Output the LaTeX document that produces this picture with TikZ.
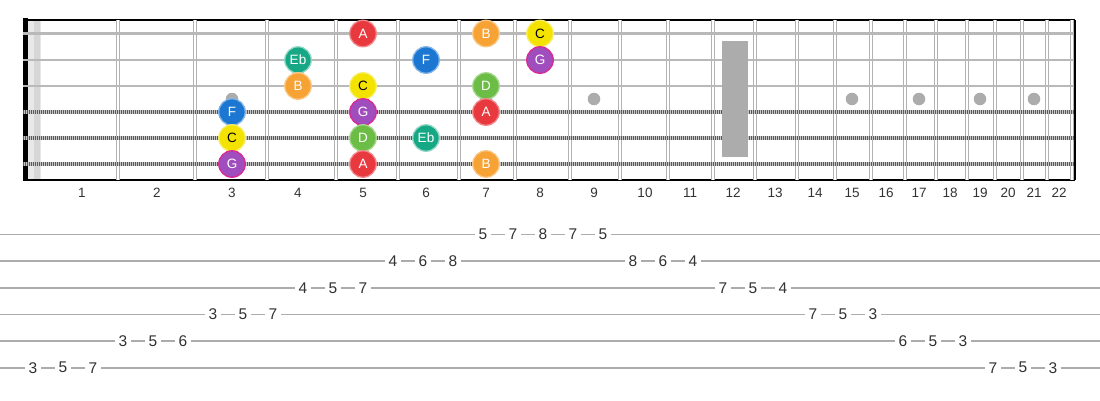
\documentclass[tikz,border=0pt]{standalone}
\usepackage{fontspec}
\setmainfont{Liberation Sans}
\usetikzlibrary{positioning}
\definecolor{noteA}{HTML}{E8393F}
\definecolor{noteB}{HTML}{F6A234}
\definecolor{noteC}{HTML}{F4E300}
\definecolor{noteD}{HTML}{6CBD45}
\definecolor{noteEb}{HTML}{16A884}
\definecolor{noteF}{HTML}{1C77D2}
\definecolor{noteG}{HTML}{A04DBE}
\definecolor{inkgray}{HTML}{333333}

\tikzset{
  every note/.style={circle, minimum size=26.5pt, inner sep=0pt, line width=1.3pt,
    text=white, font=\fontsize{13.5}{13.5}\selectfont},
  note A/.style={fill=noteA, draw=noteA!60!white},
  note B/.style={fill=noteB, draw=noteB!60!white},
  note C/.style={fill=noteC, draw=noteC!60!white, text=black},
  note D/.style={fill=noteD, draw=noteD!60!white},
  note Eb/.style={fill=noteEb, draw=noteEb!45!white},
  note F/.style={fill=noteF, draw=noteF!55!white},
  note G/.style={fill=noteG, draw=magenta!70!noteG},
  fret wire/.style={draw=gray!60, line width=1.4pt, double=white, double distance=1.5pt},
  plain string/.style={draw=gray!55, line width=2.8pt},
  wound string/.style={draw=gray!45, line width=3.8pt},
  wound ticks/.style={draw=black!65, line width=3.8pt, dash pattern=on 0.9pt off 1.1pt},
  fret dot/.style={circle, fill=gray!65, minimum size=12.5pt, inner sep=0pt},
  fret label/.style={text=inkgray, font=\fontsize{13.5}{13.5}\selectfont},
  tab line/.style={draw=gray!65, line width=1.8pt},
  tab digit/.style={fill=white, inner xsep=3.5pt, inner ysep=2pt, text=inkgray,
    font=\fontsize{15.5}{15.5}\selectfont}
}

\begin{document}
\begin{tikzpicture}[x=1pt, y=-1pt]
\useasboundingbox (0,0) rectangle (1100,400);
\fill[white] (0,0) rectangle (1100,400);

% neck
\fill[black] (23,18) rectangle (27.5,181);
\fill[gray!18] (27.5,20) rectangle (41,180);
\fill[gray!32] (34,20) rectangle (40,180);
\draw[black, line width=1.3pt] (23,20) -- (1075,20);
\draw[black, line width=1.3pt] (23,180) -- (1075,180);
\draw[black, line width=1.6pt] (1075,20) -- (1075,180);

\foreach \x [count=\i] in {118,195,267,336,398,459,515,570,620,668,713,755,797,835,871,905,936,967,995,1022,1047,1072}
  \draw [fret wire] (\x,20) -- (\x,180);

\foreach \y [count=\s] in {33.5,60,86,112,138,164}
  \coordinate (string-\s) at (0,\y);

\foreach \s in {1,2,3}
  \draw [plain string] (23,0 |- string-\s) -- (1074,0 |- string-\s);

\foreach \s in {4,5,6} {
  \draw [wound string] (23,0 |- string-\s) -- (1074,0 |- string-\s);
  \draw [wound ticks] (23,0 |- string-\s) -- (1074,0 |- string-\s);
}

\foreach \x [count=\f] in {82,157,232,298,363,426,486,540,594,645,690,733,775,815,852,886,919,950,980,1008,1034,1059}
  \node [fret label] (fretnum-\f) at (\x,193) {\f};

% inlays
\coordinate (dotrow) at (0,99);
\foreach \f in {3,5,7,9,15,17,19,21}
  \node [fret dot] (dot-\f) at (fretnum-\f |- dotrow) {};
\node [fill=gray!65, minimum width=26pt, minimum height=116pt, inner sep=0pt]
  (dot-12) at (735,99) {};

% notes
\foreach \s/\f/\n in {1/5/A, 1/7/B, 1/8/C,
                      2/4/Eb, 2/6/F, 2/8/G,
                      3/4/B, 3/5/C, 3/7/D,
                      4/3/F, 4/5/G, 4/7/A,
                      5/3/C, 5/5/D, 5/6/Eb,
                      6/3/G, 6/5/A, 6/7/B}
  \node [every note/.try, note \n/.try] (note-\s-\f) at (fretnum-\f |- string-\s) {\n};

% tab
\foreach \y [count=\s] in {234.5,261.2,287.8,314.4,341.1,367.7} {
  \coordinate (tabL-\s) at (0,\y);
  \coordinate (tabR-\s) at (1100,\y);
  \draw [tab line] (tabL-\s) -- (tabR-\s);
}

\foreach \s/\f [count=\i from 0, evaluate=\i as \x using 33+30*\i] in {6/3,6/5,6/7,5/3,5/5,5/6,4/3,4/5,4/7,3/4,3/5,3/7,
                                      2/4,2/6,2/8,1/5,1/7,1/8,1/7,1/5,2/8,2/6,2/4,
                                      3/7,3/5,3/4,4/7,4/5,4/3,5/6,5/5,5/3,6/7,6/5,6/3}
  \node [tab digit] (tab-\i) at (\x,0 |- tabL-\s) {\f};

\end{tikzpicture}
\end{document}
